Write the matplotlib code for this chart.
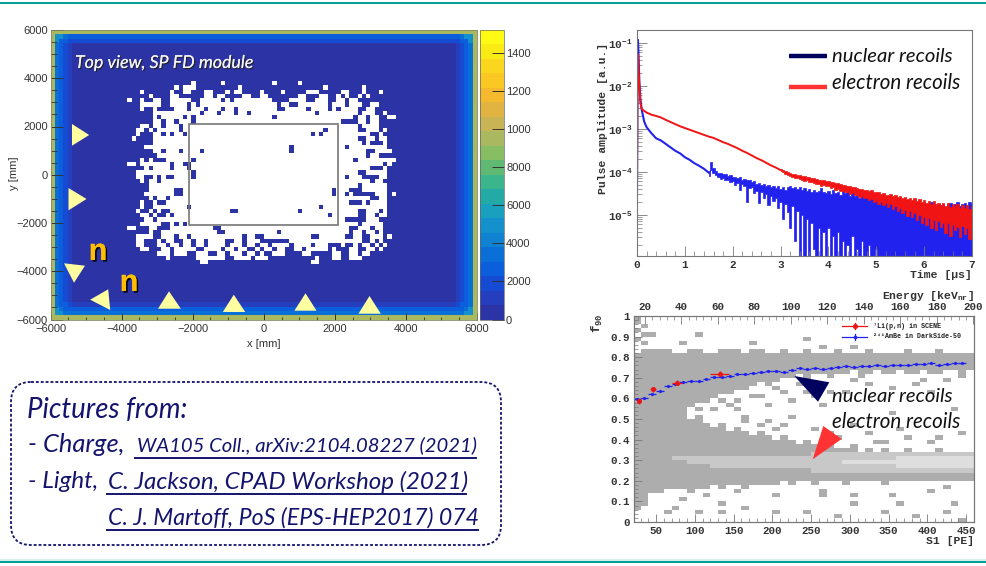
import numpy as np
import matplotlib
matplotlib.use("Agg")
import matplotlib.pyplot as plt
import matplotlib.patheffects as pe
from matplotlib.colors import ListedColormap, BoundaryNorm
from matplotlib.patches import FancyBboxPatch, Polygon, Rectangle
from matplotlib.ticker import MultipleLocator, FixedLocator, NullFormatter

W, H = 986, 566
plt.rcParams['mathtext.default'] = 'regular'
SANS = ['Liberation Sans', 'DejaVu Sans']
MONO = ['Liberation Mono', 'DejaVu Sans Mono']
HAND = ['Lato', 'DejaVu Sans']
NAVY = '#14146e'
TEAL = '#00a096'

# --- left panel: empty (white) cells per grid row, as (first col, last col)
white_runs = {
    12: [(33, 33), (40, 40), (52, 52), (58, 58)],
    13: [(29, 29), (31, 33), (44, 44), (64, 64), (73, 73)],
    14: [(21, 21), (28, 28), (31, 32), (36, 37), (41, 41), (43, 44), (49, 49), (54, 54), (60, 62), (68, 69),
         (73, 73), (77, 77)],
    15: [(23, 23), (28, 29), (36, 37), (39, 40), (45, 46), (49, 50), (58, 59), (63, 64), (67, 67), (69, 69),
         (72, 72), (74, 74)],
    16: [(18, 18), (21, 21), (24, 25), (28, 32), (35, 39), (41, 41), (43, 51), (56, 59), (62, 64), (67, 68),
         (70, 71)],
    17: [(21, 25), (28, 31), (33, 33), (35, 52), (54, 55), (58, 64), (66, 68), (70, 72), (75, 76)],
    18: [(21, 21), (24, 24), (29, 31), (33, 35), (37, 52), (55, 59), (61, 64), (66, 66), (68, 71), (74, 75)],
    19: [(24, 25), (26, 34), (36, 38), (40, 42), (44, 45), (47, 61), (63, 71), (73, 75), (78, 78)],
    20: [(24, 24), (26, 30), (32, 32), (34, 51), (53, 70), (72, 73), (75, 76), (79, 80)],
    21: [(24, 25), (27, 28), (30, 32), (34, 67), (72, 73), (75, 76)],
    22: [(21, 22), (24, 25), (27, 29), (31, 32), (33, 71), (73, 76)],
    23: [(20, 21), (23, 23), (25, 29), (31, 71), (74, 76), (78, 78)],
    24: [(20, 20), (24, 25), (27, 27), (29, 30), (32, 74), (77, 77)],
    25: [(19, 19), (24, 71), (74, 75), (77, 78)],
    26: [(24, 72), (74, 74), (78, 78)],
    27: [(22, 23), (24, 68), (70, 76), (77, 78)],
    28: [(24, 25), (27, 29), (31, 73), (76, 79)],
    29: [(25, 73), (75, 76)],
    30: [(21, 21), (23, 23), (27, 70), (72, 79), (80, 80)],
    31: [(18, 19), (21, 22), (23, 27), (29, 30), (32, 74), (75, 77), (79, 79)],
    32: [(22, 22), (24, 27), (29, 31), (33, 70), (71, 74), (78, 78)],
    33: [(20, 23), (24, 71), (74, 78)],
    34: [(20, 21), (24, 24), (26, 26), (29, 68), (70, 72), (77, 78)],
    35: [(21, 21), (23, 24), (26, 74), (76, 77)],
    36: [(23, 71), (73, 78)],
    37: [(23, 28), (31, 69), (73, 74), (75, 78)],
    38: [(22, 28), (31, 68), (70, 70), (76, 78), (80, 80)],
    39: [(23, 23), (25, 26), (28, 74), (77, 78)],
    40: [(21, 21), (24, 24), (27, 69), (73, 73), (75, 78)],
    41: [(21, 21), (24, 31), (33, 77), (78, 78)],
    42: [(20, 20), (23, 23), (25, 25), (28, 71), (74, 76), (78, 78)],
    43: [(21, 22), (24, 24), (27, 27), (29, 71), (74, 75), (77, 78)],
    44: [(22, 23), (25, 68), (74, 76)],
    45: [(21, 25), (28, 28), (30, 30), (32, 71), (73, 76), (77, 77)],
    46: [(18, 19), (23, 24), (28, 37), (40, 69), (72, 72), (73, 74), (76, 77)],
    47: [(23, 23), (26, 38), (41, 52), (54, 69), (71, 72), (74, 75), (77, 77)],
    48: [(20, 23), (26, 28), (30, 31), (33, 44), (46, 47), (50, 60), (63, 68), (71, 72), (75, 77), (79, 79)],
    49: [(20, 21), (25, 25), (27, 28), (31, 32), (34, 35), (37, 40), (43, 44), (46, 48), (56, 64), (65, 69),
         (70, 72), (75, 75), (77, 77)],
    50: [(20, 21), (25, 26), (28, 29), (31, 32), (34, 35), (37, 40), (42, 44), (46, 47), (49, 50), (52, 55),
         (57, 60), (62, 64), (68, 68), (71, 71), (73, 74), (76, 76), (78, 78)],
    51: [(21, 22), (26, 27), (29, 33), (36, 39), (41, 42), (44, 45), (48, 48), (50, 51), (53, 54), (57, 58),
         (60, 64), (66, 66), (70, 71), (74, 75), (77, 77)],
    52: [(25, 27), (29, 31), (34, 36), (39, 40), (42, 44), (46, 47), (49, 49), (52, 54), (59, 60), (66, 67),
         (70, 71), (73, 74)],
    53: [(27, 27), (34, 36), (37, 40), (43, 46), (48, 50), (62, 62), (66, 67), (70, 72)],
    54: [(35, 36), (61, 62)],
}
# filled cells inside the white area, (row, col)
blue_holes = [(23, 64), (24, 63), (24, 61), (27, 56), (28, 56), (28, 35), (30, 33), (31, 32), (33, 33), (34, 33),
              (41, 32), (42, 42), (42, 43), (46, 38), (46, 39), (37, 66), (38, 66), (41, 63), (42, 58), (43, 65),
              (16, 40), (16, 42), (17, 34), (18, 40), (18, 43), (19, 35), (19, 39), (19, 43), (19, 46), (20, 31),
              (20, 33), (21, 33), (27, 69), (28, 26), (28, 30), (31, 28), (32, 28), (47, 53), (48, 61), (48, 62)]
edge_levels = [9800, 4700, 3700, 2900, 2300, 1700, 1100, 400]
side_depth = {'left': 5, 'right': 5, 'top': 3, 'bottom': 4}
cbar_ticks = [0, 2000, 4000, 6000, 8000, 10000, 12000, 14000]
cbar_labels = ['0', '2000', '4000', '6000', '8000', '1000', '1200', '1400']
bird_colors = ['#2c33a5', '#243ebe', '#144bd2', '#0c5fdc', '#0a70d7', '#0f82d2', '#1491cd',
               '#19a0be', '#23aaa5', '#3cb48c', '#5fb973', '#87be64', '#aab95f', '#c8b455',
               '#e1b441', '#f5b92d', '#fac823', '#fad71e', '#faeb14', '#fffa14']

# --- top right panel, amplitudes as log10 of the value read on the axis
blue_line_t = [0.0, 0.01, 0.02, 0.03, 0.05, 0.07, 0.1, 0.15, 0.2, 0.3, 0.4, 0.5, 0.6, 0.7, 0.8,
               0.9, 1.0, 1.1, 1.2, 1.3, 1.4, 1.5]
blue_line_log = [-4.5, -2.0, -0.93, -1.2, -1.9, -2.3, -2.56, -2.83, -2.96, -3.10, -3.22, -3.27,
                 -3.35, -3.43, -3.51, -3.57, -3.66, -3.72, -3.80, -3.86, -3.93, -4.02]
blue_top_log = [-3.98, -3.78, -3.90, -3.98, -4.02, -4.03, -4.06, -4.05, -4.10, -4.08,
                -4.12, -4.11, -4.15, -4.13, -4.18, -4.16, -4.20, -4.19, -4.24, -4.22,
                -4.28, -4.25, -4.30, -4.28, -4.32, -4.30, -4.36, -4.33, -4.38, -4.34,
                -4.40, -4.36, -4.42, -4.36, -4.34, -4.38, -4.36, -4.40, -4.36, -4.42,
                -4.38, -4.44, -4.40, -4.46, -4.42, -4.48, -4.44, -4.38, -4.46, -4.50,
                -4.44, -4.52, -4.42, -4.50, -4.46, -4.54, -4.44, -4.50, -4.48, -4.56,
                -4.50, -4.56, -4.52, -4.60, -4.54, -4.58, -4.56, -4.62, -4.58, -4.64,
                -4.58, -4.66, -4.60, -4.64, -4.62, -4.68, -4.64, -4.70, -4.66, -4.72,
                -4.66, -4.72, -4.68, -4.74, -4.70, -4.76, -4.70, -4.74, -4.72, -4.78,
                -4.72, -4.78, -4.74, -4.70, -4.76, -4.80, -4.74, -4.78, -4.76, -4.82,
                -4.74, -4.72, -4.78, -4.76, -4.70, -4.80, -4.76, -4.72, -4.78, -4.70,
                -4.74]
blue_bottom_log = [-4.10, -3.95, -4.02, -4.08, -4.12, -4.16, -4.14, -4.20, -4.18, -4.24,
                   -4.22, -4.30, -4.26, -4.42, -4.28, -4.34, -4.70, -4.38, -4.36, -4.50,
                   -4.44, -4.72, -4.48, -4.60, -4.52, -4.78, -4.56, -4.68, -4.62, -4.84,
                   -4.70, -5.10, -4.76, -4.94, -5.30, -4.80, -5.60, -4.90, -6.50, -5.00,
                   -6.50, -5.10, -6.50, -5.20, -5.80, -6.50, -5.30, -6.50, -5.40, -6.50,
                   -5.30, -6.50, -5.50, -6.50, -5.40, -6.50, -5.60, -6.50, -5.70, -6.50,
                   -5.50, -6.50, -5.80, -6.50, -5.60, -6.50, -6.50, -5.70, -6.50, -6.50,
                   -5.80, -6.50, -6.50, -6.50, -6.50, -6.50, -6.50, -6.50, -6.50, -6.50,
                   -6.50, -6.50, -6.50, -6.50, -6.50, -6.50, -6.50, -6.50, -6.50, -6.50,
                   -6.50, -6.50, -6.50, -6.50, -6.50, -6.50, -6.50, -6.50, -6.50, -6.50,
                   -6.50, -6.50, -6.50, -6.50, -6.50, -6.50, -6.50, -6.50, -6.50, -6.50,
                   -6.50]
red_line_t = [0.0, 0.01, 0.02, 0.03, 0.05, 0.07, 0.1, 0.15, 0.2, 0.3, 0.4, 0.5, 0.6, 0.7, 0.8, 0.9,
              1.0, 1.1, 1.2, 1.3, 1.4, 1.5, 1.6, 1.7, 1.8, 1.9, 2.0, 2.1, 2.2, 2.3, 2.4, 2.5, 2.6,
              2.7, 2.8, 2.9, 3.0]
red_line_log = [-4.4, -2.0, -1.27, -1.6, -2.0, -2.4, -2.54, -2.58, -2.62, -2.67, -2.70, -2.735,
                -2.79, -2.84, -2.89, -2.94, -2.98, -3.02, -3.06, -3.10, -3.14, -3.18, -3.21,
                -3.26, -3.31, -3.35, -3.40, -3.45, -3.51, -3.56, -3.62, -3.68, -3.73, -3.79,
                -3.85, -3.90, -3.96]
red_top_log = [-3.94, -3.96, -3.99, -4.01, -4.03, -4.05, -4.06, -4.07, -4.08, -4.10,
               -4.10, -4.12, -4.13, -4.14, -4.15, -4.17, -4.18, -4.19, -4.20, -4.21,
               -4.22, -4.24, -4.23, -4.27, -4.27, -4.29, -4.30, -4.31, -4.33, -4.33,
               -4.36, -4.36, -4.38, -4.39, -4.39, -4.42, -4.42, -4.44, -4.43, -4.47,
               -4.47, -4.48, -4.51, -4.49, -4.53, -4.54, -4.52, -4.57, -4.55, -4.59,
               -4.56, -4.61, -4.58, -4.63, -4.60, -4.66, -4.62, -4.67, -4.64, -4.70,
               -4.65, -4.72, -4.67, -4.74, -4.69, -4.76, -4.72, -4.78, -4.72, -4.80,
               -4.73, -4.82, -4.75, -4.80, -4.76, -4.85, -4.77, -4.84, -4.78, -4.86,
               -4.80]
red_bottom_log = [-3.99, -4.01, -4.04, -4.07, -4.09, -4.12, -4.14, -4.15, -4.17, -4.19,
                  -4.21, -4.20, -4.24, -4.24, -4.27, -4.28, -4.28, -4.32, -4.31, -4.34,
                  -4.34, -4.38, -4.36, -4.42, -4.40, -4.44, -4.44, -4.48, -4.47, -4.52,
                  -4.50, -4.55, -4.53, -4.58, -4.57, -4.62, -4.60, -4.66, -4.63, -4.70,
                  -4.67, -4.74, -4.70, -4.78, -4.73, -4.82, -4.76, -4.86, -4.80, -4.92,
                  -4.84, -4.96, -4.88, -5.02, -4.92, -5.06, -4.96, -5.12, -5.00, -5.18,
                  -5.04, -5.24, -5.08, -5.30, -5.12, -5.36, -5.14, -5.28, -5.20, -5.42,
                  -5.18, -5.50, -5.24, -5.36, -5.28, -5.52, -5.26, -5.44, -5.30, -5.56,
                  -5.34]

# --- bottom right panel, per 10 PE column from S1 = 20
band_top = [.82, .84, .84, .84, .84, .82, .82, .84, .84, .82, .82, .84, .84, .84, .82, .84, .84, .82,
            .82, .84, .82, .82, .84, .82, .82, .82, .84, .82, .82, .82, .84, .82, .82, .82, .82, .84,
            .82, .82, .82, .84, .82, .82, .82, .82]
gap_top = [0, 0, 0, 0, 0, 0, .54, .56, .58, .58, .60, .62, .62, .64, .64, .66, .68, .66, .68, .70, .70,
           .72, .70, .72, .72, .70, .72, .72, .74, .72, .72, .74, .72, .72, .74, .72, .72, .74, .72,
           .72, .74, .74, .72, .74]
gap_bottom = [0, 0, 0, 0, 0, 0, .52, .50, .52, .48, .46, .48, .44, .46, .44, .42, .44, .42, .40, .42,
              .40, .38, .40, .38, .36, .38, .36, .36, .38, .34, .36, .34, .36, .34, .34, .36, .34, .34,
              .34, .36, .34, .34, .34, .34]
band_bottom = [.06, .08, .14, .14, .16, .16, .16, .14, .16, .16, .18, .16, .18, .18, .16, .18, .18, .18,
               .18, .20, .18, .20, .20, .18, .20, .20, .20, .18, .20, .20, .20, .20, .18, .20, .20, .20,
               .20, .20, .20, .20, .20, .20, .20, .20]
light_top = [0, 0, 0, 0, 0, .32, .32, .32, .32, .32, .32, .32, .32, .32, .32, .32, .32, .32, .32, .32,
             .32, .32, .32, .34, .34, .34, .34, .34, .34, .34, .34, .34, .34, .34, .34, .34, .34, .34,
             .34, .34, .34, .34, .34, .34]
light_bottom = [0, 0, 0, 0, 0, .30, .30, .28, .28, .28, .26, .26, .26, .26, .26, .26, .26, .26, .26, .26,
                .26, .26, .26, .24, .24, .24, .24, .24, .24, .24, .24, .24, .24, .24, .24, .24, .24, .24,
                .24, .24, .24, .24, .24, .24]
lighter_top = [0] * 27 + [.30, .30, .30, .30, .30, .30, .30, .32, .32, .32, .32, .32, .32, .32, .32, .32, .32]
lighter_bottom = [0] * 27 + [.28, .28, .28, .28, .28, .28, .28, .26, .26, .26, .26, .26, .26, .26, .26, .26, .26]
speck_s1 = [20, 20, 30, 20, 30, 20, 30, 105, 175, 260, 300, 240, 80, 40, 115, 85, 100, 90, 130, 150, 150,
            180, 210, 230, 250, 270, 250, 300, 320, 350, 380, 420, 440, 400, 430, 350, 260, 220, 160, 190,
            250, 270, 320, 370, 400, 440, 300, 200, 110, 150, 200, 260, 260, 300, 350, 400, 430, 420, 70,
            100, 130, 100, 60, 160, 200, 240, 280, 340, 380, 420, 440, 300, 360, 80, 130,
            120, 140, 170, 190, 200, 220, 240, 160, 180, 290, 310, 340, 360, 390, 410, 280, 330, 240, 210]
speck_f90 = [.98, .96, .94, .92, .90, .88, .86, .90, .86, .84, .84, .88, .86, .90, .58, .52, .54, .55, .58,
             .58, .54, .60, .62, .66, .60, .62, .66, .68, .66, .64, .66, .68, .70, .62, .54, .52, .55, .50,
             .50, .48, .44, .42, .42, .40, .38, .42, .46, .44, .12, .14, .13, .14, .11, .12, .13, .14, .09,
             .16, .06, .05, .03, .03, .03, .06, .05, .03, .02, .04, .02, .03, .01, .07, .08, .10, .08,
             .54, .56, .60, .56, .64, .58, .62, .48, .46, .62, .70, .38, .44, .68, .40, .40, .38, .68, .46]
ambe_s1 = [25, 35, 45, 55, 65, 75, 85, 95, 105, 115, 125, 135, 145, 155, 165, 175, 185, 195, 205, 215, 225,
           235, 245, 255, 265, 275, 285, 295, 305, 315, 325, 335, 345, 355, 365, 375, 385, 395, 405, 415,
           425, 435, 445]
ambe_f90 = [.597, .60, .62, .635, .66, .672, .68, .683, .685, .692, .702, .702, .71, .72, .72, .722, .73,
            .733, .733, .73, .74, .75, .745, .75, .745, .75, .752, .755, .752, .755, .758, .76, .755, .76,
            .76, .762, .765, .768, .772, .762, .768, .772, .772]
li_s1 = [28, 46, 77, 132]
li_f90 = [.585, .645, .675, .72]
li_s1_err = [3, 4, 6, 12]
li_f90_err = [.012, .012, .012, .012]

# --- slide annotations, in pixels of the slide
yellow_triangles = [
    [(72, 124), (89.2, 135), (72, 145.7)], [(68.5, 188), (86.5, 199), (68.5, 210.3)],
    [(64, 263.3), (85, 265.7), (74, 282.7)], [(108.2, 289.3), (90.2, 299.7), (110.2, 310)],
    [(169, 291.3), (158, 308.7), (180.8, 308.7)], [(233.8, 294.7), (222.8, 312), (245.2, 312)],
    [(305.5, 293.3), (294.4, 310.7), (316.5, 310.7)], [(369.5, 296), (358.5, 313.7), (380.8, 313.7)],
]
navy_triangle = [(794.3, 376), (829.3, 382.3), (818, 401.7)]
red_triangle = [(823.3, 426), (841.7, 439), (812.7, 459.3)]


def ax_rect(left, top, right, bottom):
    return [left / W, 1 - bottom / H, (right - left) / W, (bottom - top) / H]


fig = plt.figure(figsize=(W / 100, H / 100), dpi=100, facecolor='white')
renderer = fig.canvas.get_renderer()

# ---------- left panel
ax1 = fig.add_axes(ax_rect(50.6, 30, 477, 319.5))
n_cols, n_rows = 100, 68
xedges = np.linspace(-6000, 6000, n_cols + 1)
yedges = np.linspace(6000, -6000, n_rows + 1)
cells = np.zeros((n_rows, n_cols))
last = len(edge_levels) - 1
for r in range(n_rows):
    for c in range(n_cols):
        ux = max((side_depth['left'] - c) / side_depth['left'],
                 (c - (n_cols - 1 - side_depth['right'])) / side_depth['right'], 0)
        uy = max((side_depth['top'] - r) / side_depth['top'],
                 (r - (n_rows - 1 - side_depth['bottom'])) / side_depth['bottom'], 0)
        reach = np.hypot(ux, uy)
        if min(r, c, n_rows - 1 - r, n_cols - 1 - c) == 0:
            cells[r, c] = edge_levels[0]
        elif reach > 0:
            cells[r, c] = edge_levels[min(last, max(1, int((1 - min(reach, 1)) * last) + 1))]
for row, runs in white_runs.items():
    for first, end in runs:
        cells[row, first:end + 1] = np.nan
for row, col in blue_holes:
    cells[row, col] = 0
bird = ListedColormap(bird_colors)
bird.set_bad('white')
norm = BoundaryNorm(np.linspace(0, 15200, len(bird_colors) + 1), bird.N)
mesh = ax1.pcolormesh(xedges, yedges, np.ma.masked_invalid(cells), cmap=bird, norm=norm)
ax1.add_patch(Rectangle((-2095, -2083), 4190, 4207, fill=False, ec='#777777', lw=1.2))
ax1.set_xlim(-6000, 6000)
ax1.set_ylim(-6000, 6000)
ax1.xaxis.set_major_locator(MultipleLocator(2000))
ax1.xaxis.set_minor_locator(MultipleLocator(500))
ax1.yaxis.set_major_locator(MultipleLocator(2000))
ax1.yaxis.set_minor_locator(MultipleLocator(500))
ax1.tick_params(axis='y', which='major', direction='in', length=8.6, width=0.7, color='#333333', pad=2,
                labelsize=8, labelcolor='#333333')
ax1.tick_params(axis='y', which='minor', direction='in', length=4.3, width=0.6, color='#333333')
ax1.tick_params(axis='x', which='major', direction='in', length=5, width=0.7, color='#333333', pad=3,
                labelsize=8, labelcolor='#333333')
ax1.tick_params(axis='x', which='minor', direction='in', length=2.5, width=0.6, color='#333333')
for lab in ax1.get_xticklabels() + ax1.get_yticklabels():
    lab.set_family(SANS)
for s in ax1.spines.values():
    s.set_color('#888866')
    s.set_linewidth(0.6)

cax = fig.add_axes(ax_rect(480, 30, 504, 319.5))
cb = fig.colorbar(mesh, cax=cax, ticks=cbar_ticks, spacing='proportional')
cb.set_ticklabels(cbar_labels)
cb.ax.minorticks_off()
cb.ax.tick_params(direction='in', length=8.6, width=0.7, color='#333333', pad=1.5, labelsize=8,
                  labelcolor='#333333')
cb.outline.set_edgecolor('#666666')
cb.outline.set_linewidth(0.5)
for lab in cb.ax.get_yticklabels():
    lab.set_family(SANS)

# ---------- top right panel
ax2 = fig.add_axes(ax_rect(637, 30, 972, 256))
blue_t = np.arange(len(blue_top_log)) * 0.05 + 1.5
red_t = np.arange(len(red_top_log)) * 0.05 + 3.0
ax2.plot(blue_line_t, 10.0 ** np.array(blue_line_log), color='#2222ee', lw=1.5)
ax2.fill_between(blue_t, 10.0 ** np.array(blue_bottom_log), 10.0 ** np.array(blue_top_log),
                 color='#2222ee', lw=0.5, step='mid')
ax2.plot(red_line_t, 10.0 ** np.array(red_line_log), color='#f01414', lw=1.4)
ax2.fill_between(red_t, 10.0 ** np.array(red_bottom_log), 10.0 ** np.array(red_top_log),
                 color='#f01414', lw=0.5, step='mid')
ax2.set_yscale('log')
ax2.set_xlim(0, 7)
ax2.set_ylim(1.1e-6, 0.2)
ax2.set_xticks(range(8))
ax2.xaxis.set_minor_locator(MultipleLocator(0.2))
ax2.set_yticks([1e-1, 1e-2, 1e-3, 1e-4, 1e-5])
ax2.set_yticklabels(['$10^{-1}$', '$10^{-2}$', '$10^{-3}$', '$10^{-4}$', '$10^{-5}$'])
ax2.yaxis.set_minor_locator(FixedLocator([m * 10.0 ** e for e in range(-7, 0) for m in range(2, 10)]))
ax2.yaxis.set_minor_formatter(NullFormatter())
ax2.tick_params(which='major', direction='in', length=7, width=0.6, color='#777777', labelsize=8, pad=3)
ax2.tick_params(which='minor', direction='in', length=3.5, width=0.5, color='#777777')
for lab in ax2.get_xticklabels() + ax2.get_yticklabels():
    lab.set_family(MONO)
    lab.set_fontweight('bold')
    lab.set_color('#333333')
for s in ax2.spines.values():
    s.set_color('#777777')
    s.set_linewidth(0.8)

# ---------- bottom right panel
ax3 = fig.add_axes(ax_rect(634, 316, 974, 522))
s1_edges = np.arange(20, 470, 10)
f_edges = np.arange(51) * 0.02
grid = np.zeros((50, 44))
for c in range(44):
    for k in range(50):
        f = k * 0.02 + 0.001
        if band_bottom[c] <= f < band_top[c] and not gap_bottom[c] <= f < gap_top[c]:
            grid[k, c] = 1
        if light_bottom[c] <= f < light_top[c]:
            grid[k, c] = 2
        if lighter_bottom[c] <= f < lighter_top[c]:
            grid[k, c] = 3
for s, f in zip(speck_s1, speck_f90):
    grid[int(round(f / 0.02)), int((s - 20) / 10)] = 1
ax3.pcolormesh(s1_edges, f_edges, grid, cmap=ListedColormap(['white', '#adadad', '#c8c8c8', '#dedede']),
               vmin=0, vmax=3)
ax3.errorbar(ambe_s1, ambe_f90, xerr=5, fmt='o', ms=1.3, color='#2222ee', elinewidth=0.9, zorder=3)
ax3.errorbar(li_s1, li_f90, xerr=li_s1_err, yerr=li_f90_err, fmt='o', ms=2.6, color='#ee1414',
             elinewidth=0.9, zorder=4)
ax3.set_xlim(21.6, 460)
ax3.set_ylim(0, 1)
ax3.set_xticks(range(50, 451, 50))
ax3.xaxis.set_minor_locator(MultipleLocator(10))
ax3.set_yticks(np.arange(0, 1.01, 0.1))
ax3.set_yticklabels(['0', '0.1', '0.2', '0.3', '0.4', '0.5', '0.6', '0.7', '0.8', '0.9', '1'])
ax3.yaxis.set_minor_locator(MultipleLocator(0.02))
ax3.tick_params(which='major', direction='in', length=6, width=0.6, color='#777777', labelsize=7.8, pad=3)
ax3.tick_params(which='minor', direction='in', length=3, width=0.5, color='#777777')
ax3top = ax3.twiny()
ax3top.set_xlim(14, 200.5)
ax3top.set_xticks(range(20, 201, 20))
ax3top.xaxis.set_minor_locator(MultipleLocator(4))
ax3top.tick_params(which='major', direction='in', length=6, width=0.6, color='#777777', labelsize=7.8, pad=3)
ax3top.tick_params(which='minor', direction='in', length=3, width=0.5, color='#777777')
for lab in ax3.get_xticklabels() + ax3.get_yticklabels() + ax3top.get_xticklabels():
    lab.set_family(MONO)
    lab.set_fontweight('bold')
    lab.set_color('#333333')
for a in (ax3, ax3top):
    for s in a.spines.values():
        s.set_color('#777777')
        s.set_linewidth(0.8)

# ---------- overlay in slide pixels
ov = fig.add_axes([0, 0, 1, 1], zorder=20)
ov.set_xlim(0, W)
ov.set_ylim(H, 0)
ov.axis('off')
ov.patch.set_alpha(0)


def fit_text(s, x0, x1, y, family=HAND, style='italic', color=NAVY, weight='normal', **kw):
    """Put s between x0 and x1 (pixels), centred on y."""
    t = ov.text(x0, y, s, family=family, style=style, color=color, weight=weight, fontsize=12,
                ha='left', va='center', **kw)
    width = t.get_window_extent(renderer).width
    t.set_fontsize(12 * (x1 - x0) / width)
    return t


ov.add_patch(Rectangle((0, 1.8), W, 2.6, color=TEAL, lw=0))
ov.add_patch(Rectangle((0, 558.8), W, 2, color='#d5efec', lw=0))
ov.add_patch(Rectangle((0, 560.8), W, 2.6, color=TEAL, lw=0))

for tri in yellow_triangles:
    ov.add_patch(Polygon(tri, closed=True, fc='#ffffa0', ec='none'))
ov.add_patch(Polygon(navy_triangle, closed=True, fc='#00005e', ec='none'))
ov.add_patch(Polygon(red_triangle, closed=True, fc='#ff3333', ec='none'))

shadow = [pe.withSimplePatchShadow(offset=(1.2, -1.2), shadow_rgbFace='black', alpha=0.9), pe.Normal()]
for nx, ny in [(98, 252), (129, 283)]:
    ov.text(nx, ny, 'n', family=SANS, weight='bold', fontsize=22, color='#ffbe00', ha='center',
            va='center', path_effects=shadow)
fit_text('Top view, SP FD module', 75, 253, 63, color='#f4f4f4',
         path_effects=[pe.withSimplePatchShadow(offset=(0.9, -0.9), shadow_rgbFace='#222222', alpha=0.9),
                       pe.Normal()])
ov.text(264, 344, 'x [mm]', family=SANS, fontsize=8, color='#333333', ha='center', va='center')
ov.text(14, 173, 'y [mm]', family=SANS, fontsize=8, color='#333333', rotation=90, ha='center', va='center')

ov.plot([789, 827], [56, 56], color='#00005e', lw=3.2, solid_capstyle='butt')
ov.plot([789, 827], [87, 87], color='#ff3333', lw=3.2, solid_capstyle='butt')
fit_text('nuclear recoils', 832, 952, 56, color='#111111')
fit_text('electron recoils', 832, 960, 83, color='#111111')
fit_text('nuclear recoils', 832, 952, 397, color='#111111')
fit_text('electron recoils', 832, 960, 422, color='#111111')

ov.text(603, 118, 'Pulse amplitude [a.u.]', family=MONO, weight='bold', fontsize=8.2, color='#333333',
        rotation=90, ha='center', va='center')
ov.text(972, 275, 'Time [\u00b5s]', family=MONO, weight='bold', fontsize=8.2, color='#333333', ha='right',
        va='center')
ov.text(974, 541, 'S1 [PE]', family=MONO, weight='bold', fontsize=8.2, color='#333333', ha='right',
        va='center')
ov.text(974, 296, 'Energy [keV$_{nr}$]', family=MONO, weight='bold', fontsize=8.2, color='#333333',
        ha='right', va='center')
ov.text(597, 323, '$f_{90}$', family=MONO, weight='bold', fontsize=9, color='#333333', rotation=90,
        ha='center', va='center')

# legend of the f90 plot
ov.plot([842, 867], [326, 326], color='#ee1414', lw=0.9)
ov.plot([854.5], [326], 'o', ms=2.6, color='#ee1414')
ov.plot([854.5, 854.5], [323, 329], color='#ee1414', lw=0.9)
ov.plot([842, 867], [337, 337], color='#2222ee', lw=0.9)
ov.plot([854.5], [337], 'o', ms=1.6, color='#2222ee')
ov.plot([854.5, 854.5], [334, 340], color='#2222ee', lw=0.9)
fit_text('\u2077Li(p,n) in SCENE', 873, 942, 326, family=MONO, style='normal', color='#222222', weight='bold')
fit_text('\u00b2\u2074\u00b9AmBe in DarkSide-50', 873, 961, 337, family=MONO, style='normal', color='#222222',
         weight='bold')

# references box
ov.add_patch(FancyBboxPatch((11, 382), 490, 163, boxstyle='round,pad=0,rounding_size=20', fc='none', ec=NAVY,
                            lw=1.3, ls=(0, (1.6, 1.1))))
fit_text('Pictures from:', 27, 187, 410)
fit_text('- Charge,', 28, 124, 445)
fit_text('WA105 Coll., arXiv:2104.08227 (2021)', 137, 476, 445)
ov.plot([135, 476], [458, 458], color=NAVY, lw=1.4)
fit_text('- Light,', 28, 98, 482)
fit_text('C. Jackson, CPAD Workshop (2021)', 108, 466, 482)
ov.plot([107, 466], [494, 494], color=NAVY, lw=1.4)
fit_text('C. J. Martoff, PoS (EPS-HEP2017) 074', 108, 478, 518)
ov.plot([107, 478], [530, 530], color=NAVY, lw=1.4)

fig.savefig('out.png', dpi=100)
